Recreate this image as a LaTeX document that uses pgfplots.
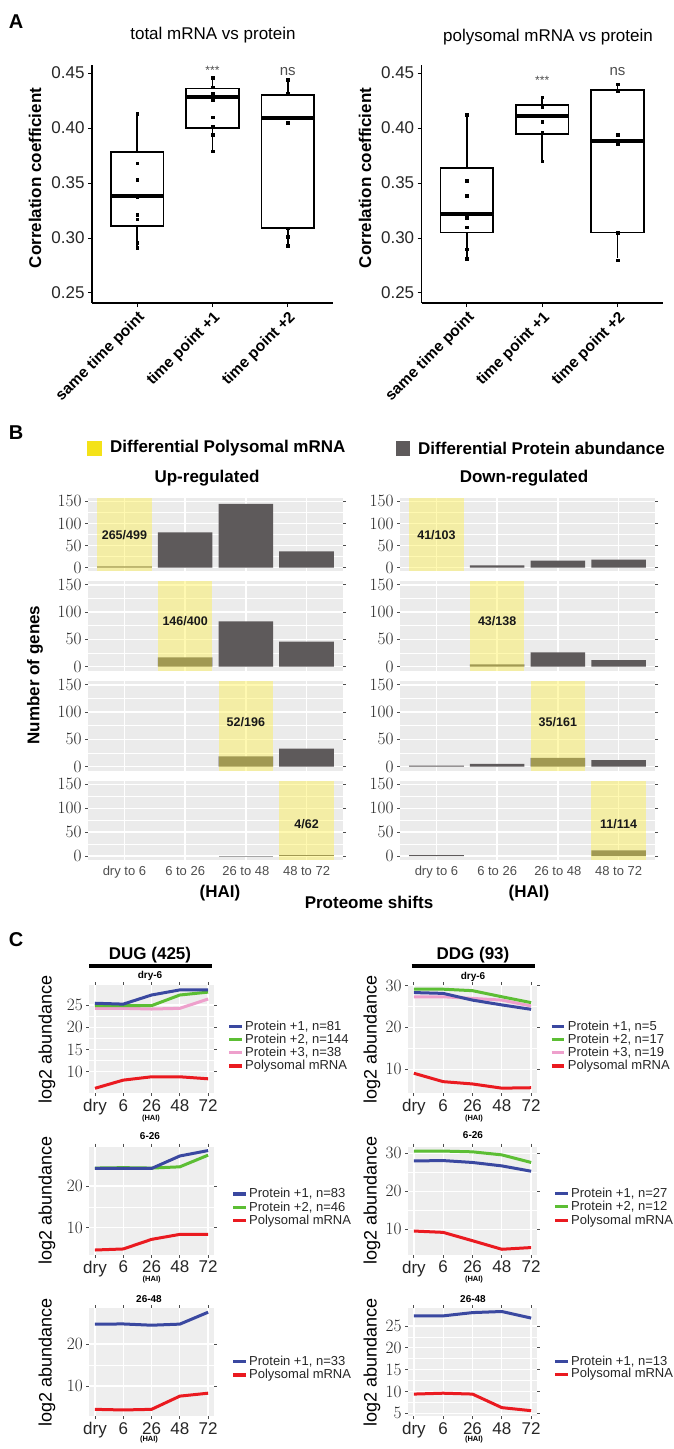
\documentclass[border=0pt]{standalone}
\usepackage{fontspec}
\setmainfont{Liberation Sans}
\usepackage{pgfplots}
\pgfplotsset{compat=1.18}
\usepgfplotslibrary{statistics}
\definecolor{bgB}{RGB}{235,235,235}
\definecolor{bgC}{RGB}{238,238,238}
\definecolor{bargray}{RGB}{94,90,91}
\definecolor{hiyel}{RGB}{255,242,70}
\definecolor{legyel}{RGB}{244,226,24}
\definecolor{cblue}{RGB}{58,72,160}
\definecolor{cgreen}{RGB}{92,190,52}
\definecolor{cpink}{RGB}{238,160,204}
\definecolor{cred}{RGB}{234,26,32}
\definecolor{txtgray}{RGB}{77,77,77}
\newcommand{\fsz}[1]{\fontsize{#1}{#1}\selectfont}
\newcommand{\legitem}[4]{\draw[#1, line width=3.5pt] (#2,-#3) -- ++(12.5,0);
  \node[anchor=west, inner sep=0pt, font=\fsz{13}, black!85] at (#2+16,-#3) {#4};}
\tikzset{Blab/.style={font=\bfseries\fsz{12.5}, black!90}}
\pgfplotsset{
  Astyle/.style={
    scale only axis, width=241pt, height=238pt, anchor=north west,
    xmin=0.4, xmax=3.6, ymin=0.2409, ymax=0.4573,
    axis x line*=bottom, axis y line*=left,
    axis line style={-, line width=1.5pt, black},
    xtick={1,2,3}, xticklabels={same time point,time point +1,time point +2},
    ytick={0.25,0.3,0.35,0.4,0.45}, yticklabels={0.25,0.30,0.35,0.40,0.45},
    tick align=outside, major tick length=4pt, tick style={black, line width=1pt},
    xticklabel style={rotate=45, anchor=north east, font=\bfseries\fsz{15.5}, inner sep=2pt},
    yticklabel style={font=\fsz{17}, black!85},
    boxplot/draw direction=y, clip=false,
  },
  Abox/.style={black, line width=1.8pt, fill=white},
  Apts/.style={only marks, mark=square*, mark size=1.3pt, black},
  Bstyle/.style={
    scale only axis, width=255pt, anchor=north west,
    xmin=0.4, xmax=4.6, ymin=-7.5, ymax=157.5,
    axis background/.style={fill=bgB}, axis line style={draw=none},
    xtick={1,2,3,4}, ytick={0,50,100,150}, minor ytick={25,75,125},
    xmajorgrids, ymajorgrids, yminorgrids,
    major grid style={white, line width=1.4pt}, minor grid style={white, line width=0.7pt},
    tick align=outside, major tick length=3pt, minor tick length=0pt,
    tick style={txtgray, line width=0.8pt},
    yticklabel style={font=\fsz{16}, black!85},
    xticklabel style={font=\fsz{13}, txtgray},
    xticklabels={}, xtick style={draw=none},
  },
  Bbot/.style={xticklabels={dry to 6,6 to 26,26 to 48,48 to 72}, xtick style={txtgray, line width=0.8pt}},
  Bbar/.style={ybar, bar width=0.9, bar shift=0pt, fill=bargray, draw=none},
  Byel/.style={fill=hiyel, fill opacity=0.42, draw=none},
  Cstyle/.style={
    scale only axis, height=108pt, anchor=north west,
    xmin=0.8, xmax=5.2,
    axis background/.style={fill=bgC}, axis line style={draw=none},
    xtick={1,2,3,4,5}, xticklabels={dry,6,26,48,72},
    xmajorgrids, ymajorgrids, yminorgrids, minor y tick num=1,
    major grid style={white, line width=1.3pt}, minor grid style={white, line width=0.6pt},
    tick align=outside, major tick length=3pt, minor tick length=0pt,
    tick style={txtgray, line width=0.8pt},
    yticklabel style={font=\fsz{17}, black!85},
    xticklabel style={font=\fsz{17}, black!85},
  },
  Cl/.style={line width=3pt, #1},
}
\begin{document}
\begin{tikzpicture}[x=1pt,y=1pt]
\useasboundingbox (0,0) rectangle (674,-1449);

% ================= Panel A =================
\node[font=\bfseries\fsz{20}] at (16,-22) {A};
\node[font=\fsz{17}] at (213,-35) {total mRNA vs protein};
\node[font=\fsz{17}] at (548,-37) {polysomal mRNA vs protein};
\node[font=\bfseries\fsz{17}, rotate=90] at (35,-178) {Correlation coefficient};
\node[font=\bfseries\fsz{17}, rotate=90] at (365,-178) {Correlation coefficient};

\begin{axis}[Astyle, at={(92pt,-65pt)}]
\addplot[Abox, boxplot prepared={draw position=1, lower whisker=0.291, lower quartile=0.311, median=0.3385, upper quartile=0.3785, upper whisker=0.413, box extend=0.7, whisker extend=0, every median/.style={line width=4pt}}] coordinates {};
\addplot[Abox, boxplot prepared={draw position=2, lower whisker=0.3785, lower quartile=0.4003, median=0.4285, upper quartile=0.436, upper whisker=0.446, box extend=0.7, whisker extend=0, every median/.style={line width=4pt}}] coordinates {};
\addplot[Abox, boxplot prepared={draw position=3, lower whisker=0.293, lower quartile=0.3088, median=0.4088, upper quartile=0.43, upper whisker=0.4436, box extend=0.7, whisker extend=0, every median/.style={line width=4pt}}] coordinates {};
\addplot[Apts] coordinates {(1,0.413) (1,0.368) (1,0.353) (1,0.339) (1,0.337) (1,0.321) (1,0.317) (1,0.296) (1,0.291)
 (2,0.446) (2,0.437) (2,0.431) (2,0.426) (2,0.410) (2,0.401) (2,0.394) (2,0.379)
 (3,0.444) (3,0.431) (3,0.405) (3,0.309) (3,0.301) (3,0.293)};
\node[font=\fsz{12}, txtgray] at (axis cs:2,0.4525) {***};
\node[font=\fsz{15}, txtgray] at (axis cs:3,0.451) {ns};
\end{axis}

\begin{axis}[Astyle, at={(421.7pt,-65pt)}]
\addplot[Abox, boxplot prepared={draw position=1, lower whisker=0.2815, lower quartile=0.305, median=0.3218, upper quartile=0.364, upper whisker=0.4127, box extend=0.7, whisker extend=0, every median/.style={line width=4pt}}] coordinates {};
\addplot[Abox, boxplot prepared={draw position=2, lower whisker=0.370, lower quartile=0.3945, median=0.4106, upper quartile=0.421, upper whisker=0.4288, box extend=0.7, whisker extend=0, every median/.style={line width=4pt}}] coordinates {};
\addplot[Abox, boxplot prepared={draw position=3, lower whisker=0.2815, lower quartile=0.305, median=0.3885, upper quartile=0.4348, upper whisker=0.440, box extend=0.7, whisker extend=0, every median/.style={line width=4pt}}] coordinates {};
\addplot[Apts] coordinates {(1,0.412) (1,0.352) (1,0.3385) (1,0.321) (1,0.318) (1,0.310) (1,0.290) (1,0.281)
 (2,0.428) (2,0.419) (2,0.411) (2,0.406) (2,0.396) (2,0.370)
 (3,0.440) (3,0.434) (3,0.394) (3,0.386) (3,0.305) (3,0.280)};
\node[font=\fsz{12}, txtgray] at (axis cs:2,0.4435) {***};
\node[font=\fsz{15}, txtgray] at (axis cs:3,0.451) {ns};
\end{axis}

% ================= Panel B =================
\node[font=\bfseries\fsz{20}] at (16,-433) {B};
\fill[legyel] (87,-441) rectangle (102,-456);
\node[anchor=west, inner sep=0pt, font=\bfseries\fsz{17}] at (110,-448.5) {Differential Polysomal mRNA};
\fill[bargray] (396,-441) rectangle (410,-456);
\node[anchor=west, inner sep=0pt, font=\bfseries\fsz{17}] at (418,-448.5) {Differential Protein abundance};
\node[font=\bfseries\fsz{17}] at (207,-478) {Up-regulated};
\node[font=\bfseries\fsz{17}] at (524,-478) {Down-regulated};
\node[font=\bfseries\fsz{17}, rotate=90] at (35,-675) {Number of genes};
\node[font=\bfseries\fsz{17}] at (220,-893) {(HAI)};
\node[font=\bfseries\fsz{17}] at (529,-893) {(HAI)};
\node[font=\bfseries\fsz{17}] at (369,-902) {Proteome shifts};

% Up-regulated
\begin{axis}[Bstyle, at={(88pt,-498pt)}, height=73pt]
\addplot[Bbar] coordinates {(1,3) (2,80) (3,144) (4,37)};
\addplot[Byel] coordinates {(0.55,-7.5) (1.45,-7.5) (1.45,157.5) (0.55,157.5)};
\node[Blab] at (axis cs:1,73) {265/499};
\end{axis}
\begin{axis}[Bstyle, at={(88pt,-580.7pt)}, height=90pt]
\addplot[Bbar] coordinates {(2,17) (3,83) (4,46)};
\addplot[Byel] coordinates {(1.55,-7.5) (2.45,-7.5) (2.45,157.5) (1.55,157.5)};
\node[Blab] at (axis cs:2,83) {146/400};
\end{axis}
\begin{axis}[Bstyle, at={(88pt,-680.7pt)}, height=90pt]
\addplot[Bbar] coordinates {(3,19) (4,33)};
\addplot[Byel] coordinates {(2.55,-7.5) (3.45,-7.5) (3.45,157.5) (2.55,157.5)};
\node[Blab] at (axis cs:3,81) {52/196};
\end{axis}
\begin{axis}[Bstyle, Bbot, at={(88pt,-780.7pt)}, height=79pt]
\addplot[Bbar, fill=gray!70] coordinates {(3,1)};
\addplot[Bbar] coordinates {(4,3)};
\addplot[Byel] coordinates {(3.55,-7.5) (4.45,-7.5) (4.45,157.5) (3.55,157.5)};
\node[Blab] at (axis cs:4,66) {4/62};
\end{axis}

% Down-regulated
\begin{axis}[Bstyle, at={(400pt,-498pt)}, height=73pt]
\addplot[Bbar] coordinates {(2,5) (3,16) (4,18)};
\addplot[Byel] coordinates {(0.55,-7.5) (1.45,-7.5) (1.45,157.5) (0.55,157.5)};
\node[Blab] at (axis cs:1,74) {41/103};
\end{axis}
\begin{axis}[Bstyle, at={(400pt,-580.7pt)}, height=90pt]
\addplot[Bbar] coordinates {(2,4) (3,26) (4,12)};
\addplot[Byel] coordinates {(1.55,-7.5) (2.45,-7.5) (2.45,157.5) (1.55,157.5)};
\node[Blab] at (axis cs:2,83) {43/138};
\end{axis}
\begin{axis}[Bstyle, at={(400pt,-680.7pt)}, height=90pt]
\addplot[Bbar] coordinates {(1,2) (2,5) (3,16) (4,12)};
\addplot[Byel] coordinates {(2.55,-7.5) (3.45,-7.5) (3.45,157.5) (2.55,157.5)};
\node[Blab] at (axis cs:3,82) {35/161};
\end{axis}
\begin{axis}[Bstyle, Bbot, at={(400pt,-780.7pt)}, height=79pt]
\addplot[Bbar] coordinates {(1,2) (4,12)};
\addplot[Byel] coordinates {(3.55,-7.5) (4.45,-7.5) (4.45,157.5) (3.55,157.5)};
\node[Blab] at (axis cs:4,67) {11/114};
\end{axis}

% ================= Panel C =================
\node[font=\bfseries\fsz{20}] at (16,-940) {C};
\node[font=\bfseries\fsz{17}] at (150,-955) {DUG (425)};
\draw[line width=4pt] (89,-965.5) -- (212,-965.5);
\node[font=\bfseries\fsz{17}] at (473,-955) {DDG (93)};
\draw[line width=4pt] (411.7,-965.5) -- (535,-965.5);
\node[font=\bfseries\fsz{10}] at (150,-976) {dry-6};
\node[font=\bfseries\fsz{10}] at (473,-977) {dry-6};
\node[font=\bfseries\fsz{10}] at (150,-1136) {6-26};
\node[font=\bfseries\fsz{10}] at (473,-1135) {6-26};
\node[font=\bfseries\fsz{10}] at (149,-1299) {26-48};
\node[font=\bfseries\fsz{10}] at (473,-1299) {26-48};
\foreach \yy in {1039, 1200.5, 1362} {\node[font=\fsz{18}, rotate=90] at (47,-\yy) {log2 abundance};}
\foreach \yy in {1039, 1200.5, 1362} {\node[font=\fsz{18}, rotate=90] at (372,-\yy) {log2 abundance};}
\foreach \xx/\yy in {151/1118.3, 151.7/1279.3, 149/1439.3, 474/1118.3, 474/1279.3, 474/1439.3} {\node[font=\bfseries\fsz{7.5}] at (\xx,-\yy) {(HAI)};}

% row 1 left
\begin{axis}[Cstyle, at={(89.3pt,-985pt)}, width=124.5pt, ymin=5.2, ymax=29.5, ytick={10,15,20,25}]
\addplot[Cl=cpink] coordinates {(1,24.25) (2,24.25) (3,24.1) (4,24.25) (5,26.35)};
\addplot[Cl=cgreen] coordinates {(1,24.85) (2,24.85) (3,24.85) (4,27.25) (5,27.9)};
\addplot[Cl=cblue] coordinates {(1,25.4) (2,25.2) (3,27.25) (4,28.4) (5,28.4)};
\addplot[Cl=cred] coordinates {(1,6.26) (2,8.1) (3,8.85) (4,8.85) (5,8.4)};
\end{axis}
% row 1 right
\begin{axis}[Cstyle, at={(408pt,-985pt)}, width=129pt, ymin=4.34, ymax=30.1, ytick={10,20,30}]
\addplot[Cl=cpink] coordinates {(1,27.3) (2,27.3) (3,26.9) (4,26.5) (5,25.1)};
\addplot[Cl=cgreen] coordinates {(1,29.1) (2,29.1) (3,28.75) (4,27.3) (5,25.9)};
\addplot[Cl=cblue] coordinates {(1,28.3) (2,28.1) (3,26.5) (4,25.35) (5,24.3)};
\addplot[Cl=cred] coordinates {(1,9.05) (2,7.05) (3,6.5) (4,5.5) (5,5.6)};
\end{axis}
% row 2 left
\begin{axis}[Cstyle, at={(89.3pt,-1146.5pt)}, width=124.5pt, ymin=3.57, ymax=29.47, ytick={10,20}]
\addplot[Cl=cgreen] coordinates {(1,24.3) (2,24.4) (3,24.3) (4,24.6) (5,27.4)};
\addplot[Cl=cblue] coordinates {(1,24.2) (2,24.2) (3,24.2) (4,27.2) (5,28.5)};
\addplot[Cl=cred] coordinates {(1,4.65) (2,4.9) (3,7.2) (4,8.4) (5,8.4)};
\end{axis}
% row 2 right
\begin{axis}[Cstyle, at={(408pt,-1146.5pt)}, width=129pt, ymin=3.37, ymax=31.8, ytick={10,20,30}]
\addplot[Cl=cgreen] coordinates {(1,30.6) (2,30.6) (3,30.4) (4,29.6) (5,27.6)};
\addplot[Cl=cblue] coordinates {(1,28.0) (2,28.1) (3,27.6) (4,26.7) (5,25.3)};
\addplot[Cl=cred] coordinates {(1,9.55) (2,9.2) (3,7.0) (4,4.75) (5,5.2)};
\end{axis}
% row 3 left
\begin{axis}[Cstyle, at={(89.3pt,-1308pt)}, width=124.5pt, ymin=2.86, ymax=28.6, ytick={10,20}]
\addplot[Cl=cblue] coordinates {(1,24.76) (2,24.8) (3,24.5) (4,24.76) (5,27.6)};
\addplot[Cl=cred] coordinates {(1,4.45) (2,4.3) (3,4.45) (4,7.6) (5,8.3)};
\end{axis}
% row 3 right
\begin{axis}[Cstyle, at={(408pt,-1308pt)}, width=129pt, ymin=4.38, ymax=29.1, ytick={5,10,15,20,25}]
\addplot[Cl=cblue] coordinates {(1,27.3) (2,27.3) (3,28.05) (4,28.3) (5,26.8)};
\addplot[Cl=cred] coordinates {(1,9.4) (2,9.6) (3,9.4) (4,6.3) (5,5.6)};
\end{axis}

% legends panel C
\legitem{cblue}{229}{1026.7}{Protein +1, n=81}
\legitem{cgreen}{229}{1039.6}{Protein +2, n=144}
\legitem{cpink}{229}{1052.7}{Protein +3, n=38}
\legitem{cred}{229}{1066}{Polysomal mRNA}
\legitem{cblue}{551.7}{1026.7}{Protein +1, n=5}
\legitem{cgreen}{551.7}{1039.6}{Protein +2, n=17}
\legitem{cpink}{551.7}{1052.7}{Protein +3, n=19}
\legitem{cred}{551.7}{1066}{Polysomal mRNA}
\legitem{cblue}{233}{1194}{Protein +1, n=83}
\legitem{cgreen}{233}{1207.3}{Protein +2, n=46}
\legitem{cred}{233}{1220.7}{Polysomal mRNA}
\legitem{cblue}{555}{1193.3}{Protein +1, n=27}
\legitem{cgreen}{555}{1206.6}{Protein +2, n=12}
\legitem{cred}{555}{1220.7}{Polysomal mRNA}
\legitem{cblue}{233}{1361.7}{Protein +1, n=33}
\legitem{cred}{233}{1375}{Polysomal mRNA}
\legitem{cblue}{555}{1361.7}{Protein +1, n=13}
\legitem{cred}{555}{1374.5}{Polysomal mRNA}
\end{tikzpicture}
\end{document}
